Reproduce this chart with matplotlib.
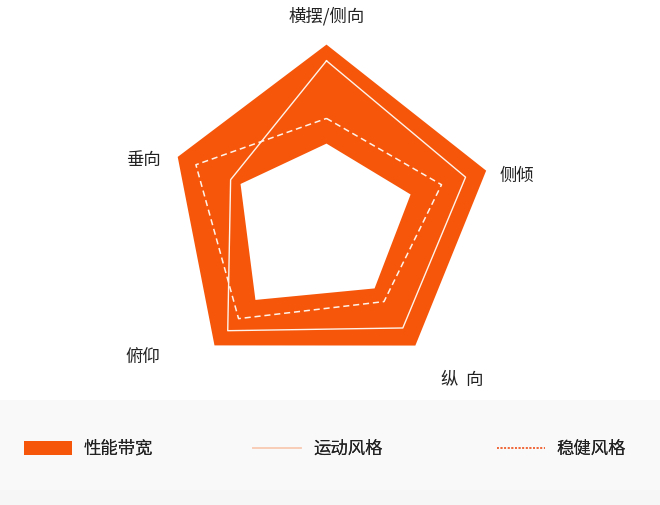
import numpy as np
import matplotlib
matplotlib.use('Agg')
import matplotlib.pyplot as plt
from matplotlib.patches import Patch, Rectangle
from matplotlib.lines import Line2D

plt.rcParams['font.family'] = ['Noto Sans CJK SC', 'DejaVu Sans']

# axes, clockwise from the top
categories = ['横摆/侧向', '侧倾', '纵  向', '俯仰', '垂向']
band_outer = [98, 93, 85, 93, 90]
band_inner = [43, 49, 46, 59, 52]
sporty = [89, 81, 73, 82, 58]
steady = [57, 67, 55, 73, 79]
legend_labels = ['性能带宽', '运动风格', '稳健风格']

orange = '#F5560A'
text_col = '#222222'

W, H, dpi = 660, 505, 100
fig = plt.figure(figsize=(W / dpi, H / dpi), dpi=dpi)
fig.patch.set_facecolor('white')

# light grey strip behind the legend
fig.add_artist(Rectangle((0, 0), 1, 105 / H, transform=fig.transFigure,
                         facecolor='#f9f9f9', edgecolor='none', zorder=0))
fig.add_artist(Rectangle((0, 0), 1, 15 / H, transform=fig.transFigure,
                         facecolor='#f6f6f6', edgecolor='none', zorder=0))

# polar axes centred at pixel (326.5, 221), r=100 -> 180 px
cx, cy, R = 326.5, 221, 180
ax = fig.add_axes([(cx - R) / W, (H - cy - R) / H, 2 * R / W, 2 * R / H],
                  projection='polar')
ax.set_theta_offset(np.pi / 2)
ax.set_theta_direction(-1)
ax.set_ylim(0, 100)
ax.set_axis_off()

# the source pentagon is not quite regular, so the spokes sit at these angles
theta = np.deg2rad([0, 72.5, 144.5, 222, 293.3])

def closed(v):
    return np.r_[theta, theta[0]], np.r_[v, v[0]]

ax.fill(*closed(band_outer), color=orange, lw=0, zorder=2)
ax.fill(*closed(band_inner), color='white', lw=0, zorder=3)
ax.plot(*closed(sporty), color='#fff3ea', lw=1.0, zorder=4)
ax.plot(*closed(steady), color='#fff3ea', lw=1.1, ls=(0, (4, 2.5)), zorder=4)

# axis names (placed by hand around the chart)
label_theta = np.deg2rad([0, 76.6, 139.5, 233.4, 288.4])
label_r = [114, 109, 116, 127, 107]
for name, t, r in zip(categories, label_theta, label_r):
    ax.text(t, r, name, ha='center', va='center', fontsize=12.5, color=text_col)

handles = [
    Patch(facecolor=orange, edgecolor='none'),
    Line2D([], [], color='#f8cdb8', lw=1.2),
    Line2D([], [], color='#f06a3c', lw=1.3, ls=(0, (1, 1))),
]
legend_x = [24, 253, 497]
for h, lab, x in zip(handles, legend_labels, legend_x):
    leg = fig.legend([h], [lab], loc='center left',
                     bbox_to_anchor=(x / W, 1 - 449 / H), frameon=False,
                     fontsize=12.5, labelcolor=text_col, handlelength=2.75,
                     handleheight=0.8, handletextpad=0.7,
                     borderpad=0, borderaxespad=0)
    fig.add_artist(leg)

fig.savefig('out.png', dpi=dpi)
